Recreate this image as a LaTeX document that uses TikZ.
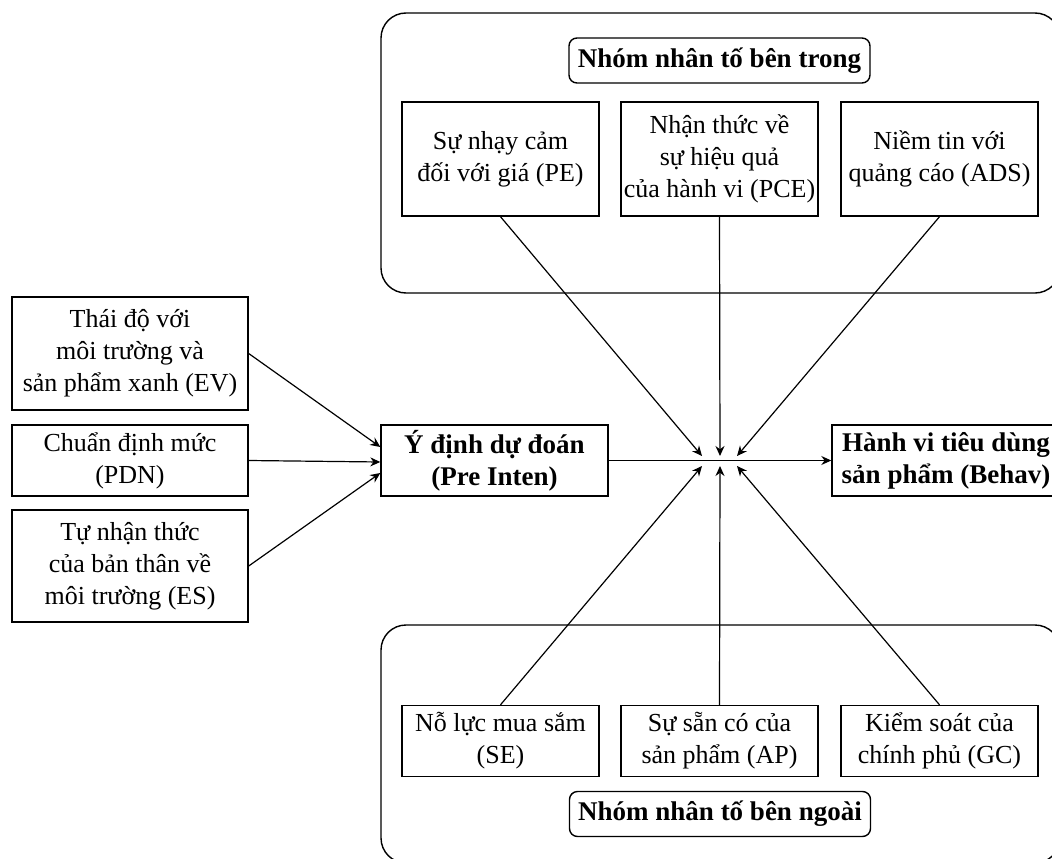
\documentclass[tikz,border=0pt]{standalone}
\usepackage{fontspec}
\setmainfont{Liberation Serif}
\usetikzlibrary{arrows.meta,calc}
\begin{document}
\begin{tikzpicture}[x=1pt,y=-1pt,
 txt/.style={font=\fontsize{26}{32}\selectfont},
 btxt/.style={font=\fontsize{27}{32}\selectfont\bfseries},
 box/.style={draw,line width=1.4pt,align=center,inner sep=0pt,txt},
 grp/.style={draw,line width=1.4pt,rounded corners=25pt,inner sep=0pt},
 ttl/.style={draw,line width=1.4pt,rounded corners=8pt,align=center,inner sep=0pt,btxt,minimum width=301pt,minimum height=45pt},
 conn/.style={line width=1.2pt,-{Stealth[length=10pt,width=9pt]}}
]
\useasboundingbox (0,0) rectangle (1052,859);
\clip (0,0) rectangle (1052,859);
% group containers
\node[grp,minimum width=679pt,minimum height=280pt] (ingrp) at (720.5,153) {};
\node[grp,minimum width=679pt,minimum height=238pt] (outgrp) at (720.5,744) {};
% titles
\node[ttl] (intitle) at (719.5,60.5) {Nhóm nhân tố bên trong};
\node[ttl] (outtitle) at (720,814) {Nhóm nhân tố bên ngoài};
% internal factors
\node[box,minimum width=197pt,minimum height=114pt] (pe) at (500.5,159) {Sự nhạy cảm\\đối với giá (PE)};
\node[box,minimum width=197pt,minimum height=114pt] (pce) at (719.5,159) {Nhận thức về\\sự hiệu quả\\của hành vi (PCE)};
\node[box,minimum width=197pt,minimum height=114pt] (ads) at (939.5,159) {Niềm tin với\\quảng cáo (ADS)};
% external factors
\node[box,minimum width=197pt,minimum height=71pt] (se) at (500.5,741) {Nỗ lực mua sắm\\(SE)};
\node[box,minimum width=197pt,minimum height=71pt] (ap) at (719.5,741) {Sự sẵn có của\\sản phẩm (AP)};
\node[box,minimum width=197pt,minimum height=71pt] (gc) at (939.5,741) {Kiểm soát của\\chính phủ (GC)};
% left factors
\node[box,minimum width=236pt,minimum height=113pt] (ev) at (130,353.5) {Thái độ với\\môi trường và\\sản phẩm xanh (EV)};
\node[box,minimum width=236pt,minimum height=71pt] (pdn) at (130,460.5) {Chuẩn định mức\\(PDN)};
\node[box,minimum width=236pt,minimum height=112pt] (es) at (130,566) {Tự nhận thức\\của bản thân về\\môi trường (ES)};
% central
\node[box,minimum width=227pt,minimum height=71pt,btxt] (pre) at (494.5,460.5) {Ý định dự đoán\\(Pre Inten)};
\node[box,minimum width=228pt,minimum height=71pt,btxt] (behav) at (946,460.5) {Hành vi tiêu dùng\\sản phẩm (Behav)};
% hub
\coordinate (hub) at (720,461);
\coordinate (t1) at ($(hub)+(-18,-5)$);
\coordinate (t2) at ($(hub)+(0,-5)$);
\coordinate (t3) at ($(hub)+(17,-5)$);
\coordinate (b1) at ($(hub)+(-18,5)$);
\coordinate (b2) at ($(hub)+(0,5)$);
\coordinate (b3) at ($(hub)+(17,5)$);
% connectors
\draw[conn] (ev.east) -- ($(pre.west)+(0,-13.5)$);
\draw[conn] (pdn.east) -- ($(pre.west)+(0,1.5)$);
\draw[conn] (es.east) -- ($(pre.west)+(0,12.5)$);
\draw[conn] (pe.south) -- (t1);
\draw[conn] (pce.south) -- (t2);
\draw[conn] (ads.south) -- (t3);
\draw[conn] (se.north) -- (b1);
\draw[conn] (ap.north) -- (b2);
\draw[conn] (gc.north) -- (b3);
\draw[conn] (pre.east) -- (behav.west);
\end{tikzpicture}
\end{document}
